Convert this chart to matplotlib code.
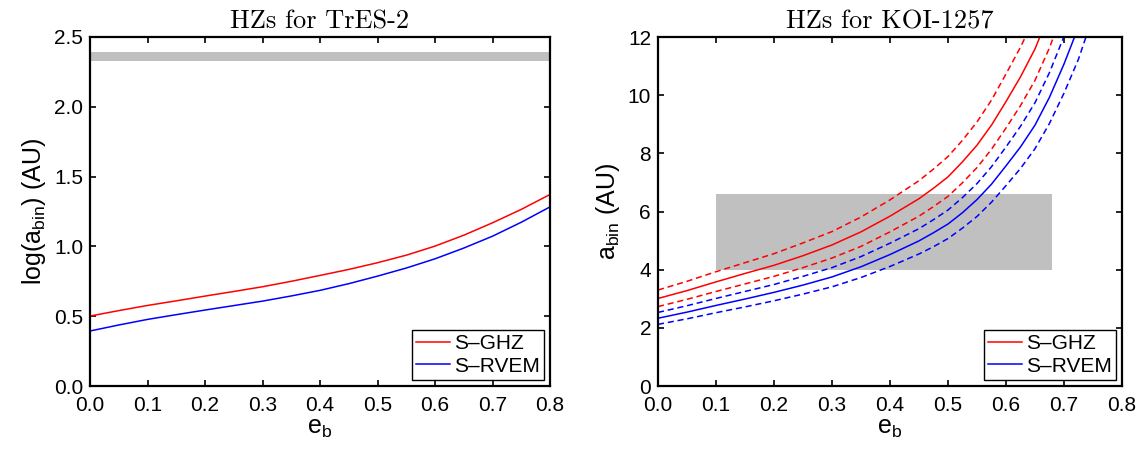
import matplotlib
matplotlib.use('Agg')
import matplotlib.pyplot as plt
import numpy as np

plt.rcParams['font.family'] = ['Liberation Sans', 'DejaVu Sans']
plt.rcParams['mathtext.fontset'] = 'custom'
plt.rcParams['mathtext.rm'] = 'Liberation Sans'
plt.rcParams['mathtext.it'] = 'Liberation Sans'
plt.rcParams['mathtext.default'] = 'regular'

# ---- TrES-2 (left), log(a_bin) vs e_b ----
e_left = [0.0, 0.05, 0.1, 0.15, 0.2, 0.25, 0.3, 0.35, 0.4, 0.45, 0.5, 0.55, 0.6, 0.65, 0.7, 0.75, 0.8]
tres_ghz = [0.501, 0.540, 0.577, 0.610, 0.644, 0.677, 0.711, 0.750, 0.792, 0.835, 0.883, 0.937,
            1.002, 1.080, 1.169, 1.265, 1.372]
tres_rvem = [0.394, 0.437, 0.477, 0.511, 0.544, 0.576, 0.608, 0.645, 0.685, 0.733, 0.787, 0.845,
             0.911, 0.988, 1.073, 1.173, 1.283]
tres_band = [2.33, 2.39]   # grey band

# ---- KOI-1257 (right), a_bin vs e_b ----
e_right = [0.0, 0.05, 0.1, 0.15, 0.2, 0.25, 0.3, 0.35, 0.4, 0.45, 0.475, 0.5, 0.525, 0.55,
           0.575, 0.6, 0.625, 0.65, 0.675, 0.7, 0.725, 0.75]
koi_ghz = [3.01, 3.28, 3.58, 3.87, 4.15, 4.48, 4.85, 5.30, 5.84, 6.44, 6.80, 7.19, 7.71, 8.28,
           8.97, 9.78, 10.63, 11.59, 12.82, 14.3, 16.0, 18.0]
koi_ghz_hi = [3.30, 3.60, 3.93, 4.24, 4.55, 4.92, 5.31, 5.81, 6.40, 7.06, 7.46, 7.89, 8.45, 9.08,
              9.83, 10.73, 11.65, 12.7, 14.06, 15.7, 17.5, 19.8]
koi_ghz_lo = [2.73, 2.98, 3.25, 3.51, 3.77, 4.07, 4.40, 4.80, 5.30, 5.84, 6.17, 6.52, 6.99, 7.51,
              8.14, 8.87, 9.64, 10.51, 11.63, 12.97, 14.47, 16.4]
koi_rvem_hi = [2.53, 2.76, 3.01, 3.25, 3.49, 3.77, 4.07, 4.45, 4.91, 5.41, 5.72, 6.05, 6.48, 6.96,
               7.54, 8.22, 8.93, 9.74, 10.78, 12.02, 13.41, 15.2]
koi_rvem = [2.33, 2.54, 2.77, 2.99, 3.22, 3.47, 3.75, 4.10, 4.52, 4.99, 5.27, 5.57, 5.96, 6.41,
            6.94, 7.57, 8.22, 8.97, 9.93, 11.07, 12.35, 13.98]
koi_rvem_lo = [2.12, 2.31, 2.52, 2.72, 2.93, 3.16, 3.41, 3.73, 4.11, 4.54, 4.79, 5.07, 5.43, 5.83,
               6.32, 6.89, 7.48, 8.16, 9.03, 10.07, 11.24, 12.72]
koi_box_e = [0.1, 0.68]
koi_box_a = [4.0, 6.6]

grey = '#c0c0c0'
title_font = dict(family='cmr10', size=19)

fig = plt.figure(figsize=(11.45, 4.54), dpi=100)
ax1 = fig.add_axes([90/1145, 68/454, 460/1145, 349/454])
ax2 = fig.add_axes([658/1145, 68/454, 464/1145, 349/454])

# left panel
ax1.fill_between([0, 0.8], tres_band[0], tres_band[1], color=grey, lw=0)
ax1.plot(e_left, tres_ghz, color='red', lw=1.1, label='S\u2013GHZ')
ax1.plot(e_left, tres_rvem, color='blue', lw=1.1, label='S\u2013RVEM')
ax1.set_xlim(0, 0.8)
ax1.set_ylim(0, 2.5)
ax1.set_yticks(np.arange(0, 2.51, 0.5))
ax1.set_yticklabels(['%.1f' % v for v in np.arange(0, 2.51, 0.5)])
ax1.set_ylabel('log(a$_{bin}$) (AU)', fontsize=18)
ax1.set_title('HZs for TrES-2', fontdict=title_font, pad=6)

# right panel
ax2.fill_between(koi_box_e, koi_box_a[0], koi_box_a[1], color=grey, lw=0)
ax2.plot(e_right, koi_ghz, color='red', lw=1.1, label='S\u2013GHZ')
ax2.plot(e_right, koi_rvem, color='blue', lw=1.1, label='S\u2013RVEM')
for ys, c in [(koi_ghz_hi, 'red'), (koi_ghz_lo, 'red'), (koi_rvem_hi, 'blue'), (koi_rvem_lo, 'blue')]:
    ax2.plot(e_right, ys, color=c, lw=1.1, dashes=(4, 2.5))
ax2.set_xlim(0, 0.8)
ax2.set_ylim(0, 12)
ax2.set_yticks(np.arange(0, 13, 2))
ax2.set_ylabel('a$_{bin}$ (AU)', fontsize=18)
ax2.set_title('HZs for KOI-1257', fontdict=title_font, pad=6)

for ax in (ax1, ax2):
    ax.set_xticks(np.arange(0, 0.81, 0.1))
    ax.set_xticklabels(['%.1f' % v for v in np.arange(0, 0.81, 0.1)])
    ax.set_xlabel('e$_b$', fontsize=18, labelpad=1)
    ax.tick_params(direction='in', top=True, right=True, length=4, width=1.2,
                   labelsize=15)
    ax.tick_params(axis='x', pad=7)
    ax.tick_params(axis='y', pad=5)
    for s in ax.spines.values():
        s.set_linewidth(1.6)
    leg = ax.legend(loc='lower right', fontsize=15, frameon=True, fancybox=False,
                    edgecolor='black', framealpha=1, borderpad=0.2, labelspacing=0.15,
                    handlelength=1.6, handletextpad=0.2, borderaxespad=0.3)
    leg.get_frame().set_linewidth(1.0)

fig.savefig('out.png', dpi=100)
